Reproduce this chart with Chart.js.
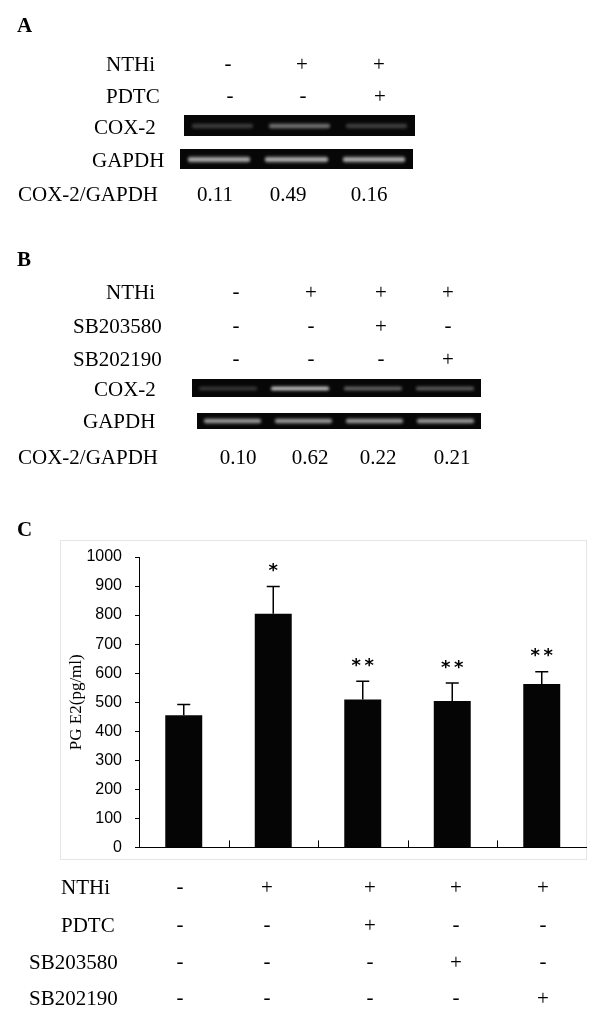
<!DOCTYPE html>
<html><head><meta charset="utf-8">
<script src="https://cdn.jsdelivr.net/npm/chart.js@4.4.1/dist/chart.umd.min.js"></script>
<style>
html,body{margin:0;padding:0;background:#fff;}
body{width:600px;height:1010px;position:relative;overflow:hidden;font-family:"Liberation Serif","Times New Roman",serif;color:#000;}
.t{position:absolute;font-size:21px;line-height:21px;white-space:nowrap;transform:translateY(-50%);will-change:transform;}
.t.c{transform:translate(-50%,-50%);}
.t.p{font-weight:bold;}
.gel{position:absolute;background:#070707;overflow:hidden;}
.band{position:absolute;border-radius:3px;filter:blur(1.4px);}
#frame{position:absolute;left:60px;top:540px;width:527px;height:320px;border:1px solid #e6e6e6;box-sizing:border-box;}
#wrap{position:absolute;left:0;top:530px;width:600px;height:340px;}
</style></head>
<body>
<div id="frame"></div>
<div id="wrap"><canvas id="c" width="600" height="340"></canvas></div>
<script>
// ---------- DATA ----------
// Panel A
const aNTHi = ['-', '+', '+'];
const aPDTC = ['-', '-', '+'];
const aRatio = ['0.11', '0.49', '0.16'];
const aCox2Band = [0.30, 0.58, 0.32];
const aGapdhBand = [0.82, 0.84, 0.84];
// Panel B
const bNTHi = ['-', '+', '+', '+'];
const bSB203580 = ['-', '-', '+', '-'];
const bSB202190 = ['-', '-', '-', '+'];
const bRatio = ['0.10', '0.62', '0.22', '0.21'];
const bCox2Band = [0.28, 0.98, 0.50, 0.46];
const bGapdhBand = [0.78, 0.78, 0.78, 0.78];
// Panel C
const cCategories = ['Control', 'NTHi', 'NTHi+PDTC', 'NTHi+SB203580', 'NTHi+SB202190'];
const cValues = [455, 805, 509, 504, 563];
const cErrors = [37, 93, 63, 62, 42];
const cSignif = ['', '*', '**', '**', '**'];
const cNTHi = ['-', '+', '+', '+', '+'];
const cPDTC = ['-', '-', '+', '-', '-'];
const cSB203580 = ['-', '-', '-', '+', '-'];
const cSB202190 = ['-', '-', '-', '-', '+'];
const yMin = 0, yMax = 1000, yStep = 100;
const yTitle = 'PG E2(pg/ml)';

// ---------- LAYOUT HELPERS ----------
function txt(s, x, y, cls) {
  const d = document.createElement('div');
  d.className = 't ' + (cls || '');
  d.textContent = s;
  d.style.left = x + 'px';
  d.style.top = y + 'px';
  document.body.appendChild(d);
  return d;
}
function signRow(arr, cols, y) {
  arr.forEach((s, i) => txt(s, cols[i], y + (s === '+' ? 0 : -1), 'c'));
}
function gel(x, y, w, h, bands, bh) {
  const g = document.createElement('div');
  g.className = 'gel';
  Object.assign(g.style, {left: x + 'px', top: y + 'px', width: w + 'px', height: h + 'px'});
  const lw = w / bands.length;
  bands.forEach((v, i) => {
    const b = document.createElement('div');
    b.className = 'band';
    const c = Math.round(v * 255);
    const bw = lw * 0.8;
    Object.assign(b.style, {
      left: (lw * (i + 0.5) - bw / 2) + 'px', top: (h / 2 - bh / 2) + 'px',
      width: bw + 'px', height: bh + 'px',
      background: `linear-gradient(to bottom, rgba(${c},${c},${c},0.15) 0%, rgba(${c},${c},${c},1) 50%, rgba(${c},${c},${c},0.15) 100%)`
    });
    g.appendChild(b);
  });
  document.body.appendChild(g);
}

// Panel A
txt('A', 17, 25, 'p');
txt('NTHi', 106, 64); signRow(aNTHi, [228, 302, 379], 64);
txt('PDTC', 106, 96); signRow(aPDTC, [230, 303, 380], 96);
txt('COX-2', 94, 127); gel(184, 115, 231, 21, aCox2Band, 6);
txt('GAPDH', 92, 160); gel(180, 149, 233, 20, aGapdhBand, 7);
txt('COX-2/GAPDH', 18, 194);
aRatio.forEach((s, i) => txt(s, [215, 288, 369][i], 194, 'c'));

// Panel B
txt('B', 17, 259, 'p');
const bCols = [236, 311, 381, 448];
txt('NTHi', 106, 292); signRow(bNTHi, bCols, 292);
txt('SB203580', 73, 326); signRow(bSB203580, bCols, 326);
txt('SB202190', 73, 359); signRow(bSB202190, bCols, 359);
txt('COX-2', 94, 389); gel(192, 379, 289, 18, bCox2Band, 5);
txt('GAPDH', 83, 421); gel(197, 413, 284, 16, bGapdhBand, 6);
txt('COX-2/GAPDH', 18, 457);
bRatio.forEach((s, i) => txt(s, [238, 310, 378, 452][i], 457, 'c'));

// Panel C labels / table
txt('C', 17, 529, 'p');
const cCols = [180, 267, 370, 456, 543];
txt('NTHi', 61, 887); signRow(cNTHi, cCols, 887);
txt('PDTC', 61, 925); signRow(cPDTC, cCols, 925);
txt('SB203580', 29, 962); signRow(cSB203580, cCols, 962);
txt('SB202190', 29, 998); signRow(cSB202190, cCols, 998);

// ---------- CHART ----------
const errorBars = {
  id: 'errorBars',
  afterDatasetsDraw(chart) {
    const ctx = chart.ctx, ys = chart.scales.y;
    const meta = chart.getDatasetMeta(0);
    ctx.save();
    ctx.strokeStyle = '#000';
    ctx.lineWidth = 1.5;
    meta.data.forEach((el, i) => {
      const yTop = ys.getPixelForValue(cValues[i] + cErrors[i]);
      ctx.beginPath();
      ctx.moveTo(el.x, el.y);
      ctx.lineTo(el.x, yTop);
      ctx.moveTo(el.x - 6.5, yTop);
      ctx.lineTo(el.x + 6.5, yTop);
      ctx.stroke();
      const s = cSignif[i];
      if (s) {
        ctx.fillStyle = '#000';
        ctx.font = 'bold 18px "DejaVu Sans"';
        ctx.textAlign = 'center';
        ctx.textBaseline = 'alphabetic';
        const m = ctx.measureText('*');
        const cy = yTop - 19;
        const by = cy + (m.actualBoundingBoxAscent - m.actualBoundingBoxDescent) / 2;
        const n = s.length, gap = 13;
        for (let k = 0; k < n; k++) {
          ctx.fillText('*', el.x + (k - (n - 1) / 2) * gap, by);
        }
      }
    });
    ctx.restore();
  }
};
const innerXTicks = {
  id: 'innerXTicks',
  afterDraw(chart) {
    const ctx = chart.ctx, xs = chart.scales.x, bottom = chart.chartArea.bottom;
    ctx.save();
    ctx.strokeStyle = '#000';
    ctx.lineWidth = 1;
    for (let i = 1; i < cCategories.length; i++) {
      const x = Math.round((xs.getPixelForTick(i - 1) + xs.getPixelForTick(i)) / 2) + 0.5;
      ctx.beginPath();
      ctx.moveTo(x, bottom);
      ctx.lineTo(x, bottom - 7);
      ctx.stroke();
    }
    ctx.restore();
  }
};

new Chart(document.getElementById('c'), {
  type: 'bar',
  data: {
    labels: cCategories,
    datasets: [{ data: cValues, backgroundColor: '#050505', borderWidth: 0, barPercentage: 0.413, categoryPercentage: 1 }]
  },
  options: {
    responsive: false,
    animation: false,
    layout: { padding: { top: 27, bottom: 20, left: 0, right: 13.5 } },
    plugins: { legend: { display: false }, tooltip: { enabled: false } },
    scales: {
      x: {
        grid: { display: true, drawOnChartArea: false, drawTicks: false },
        ticks: { display: false },
        border: { display: true, color: '#000', width: 1 },
        afterFit(s) { s.height = 0; }
      },
      y: {
        min: yMin, max: yMax,
        ticks: { stepSize: yStep, color: '#000', padding: 13, font: { family: 'Liberation Sans', size: 16 }, callback: v => String(v) },
        grid: { drawOnChartArea: false, drawTicks: true, tickLength: 4, color: '#000' },
        border: { display: true, color: '#000', width: 1 },
        title: { display: true, text: yTitle, color: '#000', font: { family: 'Liberation Serif', size: 17 }, padding: { top: 66, bottom: 0 } },
        afterFit(s) { s.width = 139; }
      }
    }
  },
  plugins: [errorBars, innerXTicks]
});
</script>
</body></html>
